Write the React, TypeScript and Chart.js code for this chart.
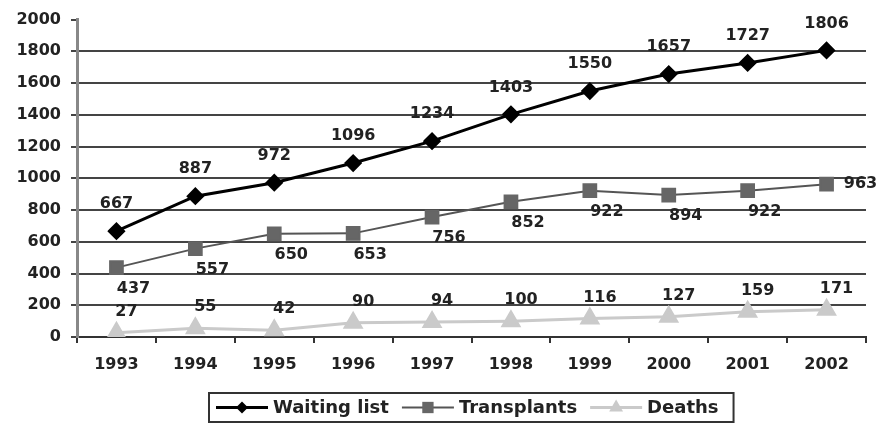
import { useEffect, useRef } from "react";
import { Chart, registerables } from "chart.js";

Chart.register(...registerables);

// Kidney programme figures, 1993–2002
const years = ["1993", "1994", "1995", "1996", "1997", "1998", "1999", "2000", "2001", "2002"];
const waitingList = [667, 887, 972, 1096, 1234, 1403, 1550, 1657, 1727, 1806];
const transplants = [437, 557, 650, 653, 756, 852, 922, 894, 922, 963];
const deaths = [27, 55, 42, 90, 94, 100, 116, 127, 159, 171];

const yMin = 0;
const yMax = 2000;
const yStep = 200;

const FONT = "'DejaVu Sans', 'Liberation Sans', Arial, sans-serif";
const TEXT = "#222";

// Writes each point's value next to its marker
const valueLabels = {
  id: "valueLabels",
  afterDatasetsDraw(chart: any) {
    const ctx = chart.ctx;
    ctx.save();
    ctx.font = `bold 16px ${FONT}`;
    ctx.fillStyle = TEXT;
    ctx.textAlign = "center";
    ctx.textBaseline = "middle";
    chart.data.datasets.forEach((ds: any, di: number) => {
      const meta = chart.getDatasetMeta(di);
      const place = ds.labelPlacement;
      meta.data.forEach((pt: any, i: number) => {
        const isLast = i === meta.data.length - 1;
        const off = isLast && place.last ? place.last : place;
        ctx.fillText(String(ds.data[i]), pt.x + off.dx, pt.y + off.dy);
      });
    });
    ctx.restore();
  },
};

// Small marker used in the legend samples
function drawMarker(ctx: CanvasRenderingContext2D, style: string, x: number, y: number, r: number) {
  ctx.beginPath();
  if (style === "rectRot") {
    ctx.moveTo(x, y - r);
    ctx.lineTo(x + r, y);
    ctx.lineTo(x, y + r);
    ctx.lineTo(x - r, y);
  } else if (style === "rect") {
    const s = r * Math.SQRT1_2;
    ctx.rect(x - s, y - s, 2 * s, 2 * s);
  } else {
    const h = r * 1.5;
    const w = r * Math.sqrt(3) / 2;
    ctx.moveTo(x, y - r);
    ctx.lineTo(x + w, y - r + h);
    ctx.lineTo(x - w, y - r + h);
  }
  ctx.closePath();
  ctx.fill();
}

// Boxed legend under the axis: line sample with marker, then the series name
const boxedLegend = {
  id: "boxedLegend",
  afterDraw(chart: any) {
    const ctx = chart.ctx;
    const area = chart.chartArea;
    const sample = 52;
    const gapText = 5;
    const gapItem = 13;
    const padL = 7;
    const padR = 15;
    const top = 393;
    const height = 29;
    const cy = top + height / 2;
    ctx.save();
    ctx.font = `bold 18px ${FONT}`;
    const items = chart.data.datasets.map((ds: any) => ({
      ds,
      w: ctx.measureText(ds.label).width,
    }));
    const inner = items.reduce((s: number, it: any) => s + sample + gapText + it.w, 0) + gapItem * (items.length - 1);
    const boxW = padL + inner + padR;
    const left = Math.round((area.left + area.right) / 2 - boxW / 2);

    ctx.strokeStyle = "#333";
    ctx.lineWidth = 2;
    ctx.strokeRect(left, top, boxW, height);

    let x = left + padL;
    items.forEach((it: any) => {
      const ds = it.ds;
      ctx.strokeStyle = ds.borderColor;
      ctx.lineWidth = ds.borderWidth;
      ctx.beginPath();
      ctx.moveTo(x, cy);
      ctx.lineTo(x + sample, cy);
      ctx.stroke();
      ctx.fillStyle = ds.pointBackgroundColor;
      drawMarker(ctx, ds.pointStyle, x + sample / 2, cy, ds.pointRadius - 1);
      x += sample + gapText;
      ctx.fillStyle = TEXT;
      ctx.textAlign = "left";
      ctx.textBaseline = "middle";
      ctx.fillText(ds.label, x, cy + 1);
      x += it.w + gapItem;
    });
    ctx.restore();
  },
};

export default function App() {
  const canvasRef = useRef<HTMLCanvasElement | null>(null);

  useEffect(() => {
    document.body.style.margin = "0";
    const canvas = canvasRef.current;
    if (!canvas) return;

    const chart = new Chart(canvas, {
      type: "line",
      data: {
        labels: years,
        datasets: [
          {
            label: "Waiting list",
            data: waitingList,
            borderColor: "#000",
            borderWidth: 3,
            pointStyle: "rectRot",
            pointRadius: 7,
            pointBackgroundColor: "#000",
            pointBorderColor: "#000",
            labelPlacement: { dx: 0, dy: -27 },
          } as any,
          {
            label: "Transplants",
            data: transplants,
            borderColor: "#555",
            borderWidth: 2,
            pointStyle: "rect",
            pointRadius: 9,
            pointBackgroundColor: "#666",
            pointBorderColor: "#666",
            labelPlacement: { dx: 17, dy: 21, last: { dx: 34, dy: 0 } },
          } as any,
          {
            label: "Deaths",
            data: deaths,
            borderColor: "#cacaca",
            borderWidth: 3,
            pointStyle: "triangle",
            pointRadius: 9,
            pointBackgroundColor: "#cacaca",
            pointBorderColor: "#cacaca",
            labelPlacement: { dx: 10, dy: -21 },
          } as any,
        ],
      },
      options: {
        animation: false,
        responsive: false,
        maintainAspectRatio: false,
        layout: { padding: { top: 19, right: 16, bottom: 0, left: 0 } },
        plugins: {
          legend: { display: false },
          tooltip: { enabled: false },
        },
        elements: { line: { tension: 0 } },
        scales: {
          x: {
            type: "category",
            offset: true,
            grid: {
              offset: true,
              drawOnChartArea: false,
              drawTicks: true,
              tickLength: 6,
              tickColor: "#333",
              lineWidth: 2,
            },
            border: { display: true, color: "#333", width: 2 },
            ticks: {
              color: TEXT,
              font: { family: FONT, size: 16, weight: "bold" },
              padding: 12,
              maxRotation: 0,
            },
            afterFit(scale: any) {
              scale.height = 88;
            },
          },
          y: {
            min: yMin,
            max: yMax,
            ticks: {
              stepSize: yStep,
              color: TEXT,
              font: { family: FONT, size: 16, weight: "bold" },
              padding: 10,
              callback: (v: any) => String(v),
            },
            grid: {
              color: (c: any) => (c.tick && c.tick.value === yMax ? "rgba(0,0,0,0)" : "#444"),
              tickColor: "#444",
              lineWidth: 2,
              tickLength: 6,
            },
            border: { display: true, color: "#888", width: 3 },
            afterFit(scale: any) {
              scale.width = 77;
            },
          },
        },
      },
      plugins: [valueLabels, boxedLegend],
    });

    return () => chart.destroy();
  }, []);

  return <canvas ref={canvasRef} width={882} height={425} style={{ display: "block", width: 882, height: 425 }} />;
}
